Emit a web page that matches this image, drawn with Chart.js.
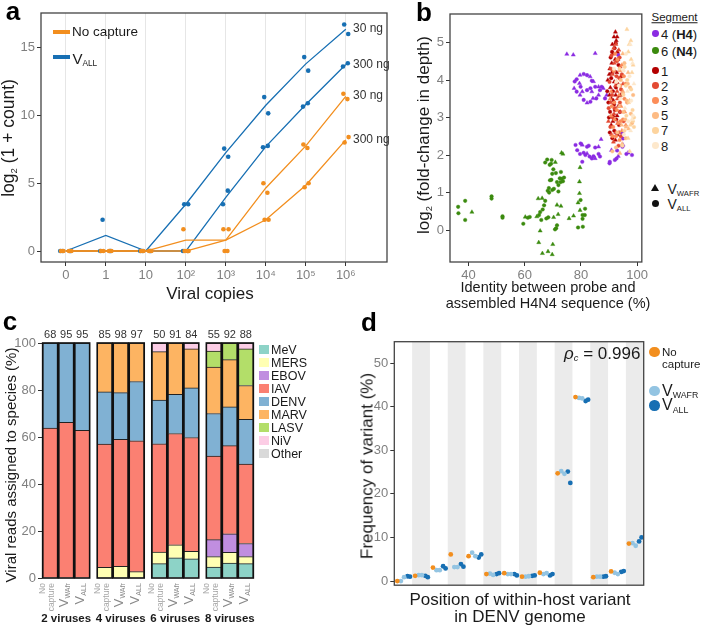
<!DOCTYPE html>
<html>
<head>
<meta charset="utf-8">
<title>Capture figure</title>
<script src="https://cdn.jsdelivr.net/npm/chart.js@4.4.1/dist/chart.umd.min.js"></script>
<style>
  html, body { margin: 0; padding: 0; background: #fff; }
  body { position: relative; width: 705px; height: 627px; overflow: hidden;
         font-family: 'Liberation Sans', Arial, sans-serif; color: #1a1a1a; }
  canvas { position: absolute; }
  .t { position: absolute; white-space: nowrap; line-height: 1; }
  .t sub { font-size: 0.55em; line-height: 0; position: relative; top: 0.32em; vertical-align: baseline; }
  .mk { position: absolute; }
</style>
</head>
<body>
<canvas id="ca" width="395" height="290" style="left:0;top:0"></canvas>
<canvas id="cb" width="250" height="282" style="left:400px;top:0"></canvas>
<canvas id="cc" width="265" height="307" style="left:0;top:320px"></canvas>
<canvas id="cd" width="305" height="275" style="left:345px;top:320px"></canvas>
<script>
// ---------- panel a: log2(1+count) vs viral copies ----------
const copyLabels = ['0', '1', '10', '10²', '10³', '10⁴', '10⁵', '10⁶'];
const noCap30   = [0, 0, 0, 0.8, 0.8, 4.65, 7.75, 11.4];
const noCap300  = [0, 0, 0, 0, 0.8, 2.3, 4.85, 8.2];
const vAll30    = [0, 1.15, 0, 3.45, 7.25, 10.75, 13.8, 16.35];
const vAll300   = [0, 0, 0, 0, 3.95, 7.7, 10.8, 13.75];
const noCap30Dots  = [[0, 0], [0, 0], [0, 0], [1.6, 0], [1.6, 0], [5.0, 4.3], [7.85, 7.6], [11.6, 11.2]];
const noCap300Dots = [[0, 0], [0, 0], [0, 0], [0, 0], [1.6, 0], [2.3, 2.3], [5.0, 4.7], [8.4, 8.0]];
const vAll30Dots   = [[0, 0], [2.3, 0], [0, 0], [3.45, 3.45], [7.55, 6.95], [11.35, 10.15], [14.3, 13.3], [16.7, 16.0]];
const vAll300Dots  = [[0, 0], [0, 0], [0, 0], [0, 0], [4.45, 3.45], [7.75, 7.65], [10.9, 10.65], [13.85, 13.6]];

// ---------- panel b: fold-change vs probe identity ([x, y, probe set]; 0 = VWAFR, 1 = VALL) ----------
const seg4 = [[75.0,4.69,0],[77.3,4.67,0],[85.1,4.71,0],[78.5,4.02,1],[79.7,4.13,0],[81.0,4.16,1],[82.2,4.13,1],[83.3,4.09,0],
  [83.9,3.98,1],[84.5,3.96,0],[77.8,3.96,1],[77.6,3.78,0],[78.5,3.69,1],[79.7,3.6,0],[81.0,3.47,1],[82.2,3.39,0],[83.4,3.42,1],
  [84.3,3.51,0],[85.5,3.51,1],[86.3,3.6,0],[86.8,3.73,1],[88.0,3.78,0],[87.4,3.82,1],[86.3,3.82,0],[85.1,3.82,1],[83.4,3.78,1],
  [83.9,3.69,0],[82.2,3.73,1],[80.5,3.69,0],[79.9,3.82,1],[79.5,3.91,0],[88.6,3.51,1],[89.2,3.6,0],[93.3,4.67,1],
  [78.1,2.27,1],[79.9,2.31,1],[80.5,2.27,0],[82.2,2.22,1],[82.8,2.25,1],[85.1,2.2,1],[86.3,2.22,0],[87.2,2.42,0],[78.7,2.13,1],
  [79.7,2.03,1],[81.0,2.06,1],[81.6,2.0,1],[82.2,2.04,0],[83.1,1.96,1],[83.9,1.91,1],[84.5,1.97,1],[85.1,1.91,0],[86.3,2.03,1],
  [86.8,1.96,1],[80.5,1.82,1],[90.3,1.82,1],[90.2,1.78,1],[92.1,1.87,1],[92.7,1.91,1],[93.3,1.97,0],[96.2,2.03,1],[96.8,2.06,0],
  [98.2,2.0,1],[90.9,2.13,0],[92.9,2.12,1],[94.8,2.22,1],[95.0,2.44,1],[92.7,2.58,1],[94.8,2.58,1],[95.0,2.27,0]];
const seg6 = [[36.3,0.62,1],[36.4,0.45,1],[38.8,0.78,1],[38.8,0.27,1],[41.2,0.48,0],[48.2,0.9,1],[48.2,0.84,1],[52.1,0.37,1],
  [52.1,0.33,1],[59.5,0.17,1],[60.2,0.35,0],[61.1,0.33,1],[61.8,0.35,1],[64.3,0.36,0],[64.8,0.84,0],[65.1,0.4,1],[65.5,0.48,1],
  [66.2,0.85,0],[66.4,0.55,1],[66.9,0.66,1],[67.3,0.78,1],[65.9,0.27,1],[65.5,-0.02,0],[65.0,-0.33,0],[66.3,-0.62,0],[68.3,-0.57,0],
  [69.8,-0.65,0],[70.0,-0.38,0],[67.7,0.31,1],[68.4,0.34,1],[70.3,0.34,0],[71.2,0.05,1],[70.8,0.02,1],[71.5,0.13,1],[71.9,0.42,0],
  [71.5,0.67,0],[72.9,0.64,0],[67.3,1.8,1],[68.0,1.88,1],[69.6,1.87,1],[69.4,1.77,1],[68.9,1.74,1],[70.9,1.81,0],[70.2,1.62,1],
  [69.8,1.5,1],[71.1,1.52,1],[69.5,1.34,1],[69.0,1.33,1],[72.9,1.55,1],[72.5,1.38,1],[73.2,1.37,1],[73.6,1.3,1],[74.0,1.4,1],
  [72.8,1.28,1],[68.6,1.12,1],[68.2,1.05,1],[68.7,1.0,1],[70.4,1.1,1],[69.8,1.07,1],[71.5,1.28,1],[72.0,1.2,1],[72.0,1.03,1],
  [73.1,2.06,0],[73.6,2.03,0],[79.7,1.67,0],[79.5,1.29,0],[79.5,0.98,0],[79.9,0.8,1],[79.0,0.73,0],[79.7,0.53,0],[81.5,0.57,1],
  [80.6,0.4,1],[81.4,0.4,1],[80.6,0.3,1],[80.7,0.09,1],[79.0,0.07,1],[75.8,0.31,0],[77.4,0.38,0]];
const seg1 = [[92.3,5.28,0],[91.8,5.15,0],[92.6,5.05,0],[91.2,4.95,0],[92.0,4.85,1],[91.5,4.7,0],[93.0,4.75,0],[90.6,4.6,1],
  [92.2,4.55,0],[91.0,4.45,0],[93.4,4.4,1],[90.3,4.3,0],[91.7,4.25,1],[92.8,4.2,0],[90.8,4.05,1],[91.9,3.95,0],[93.0,3.9,1],
  [90.5,3.8,0],[91.4,3.7,1],[92.4,3.6,0],[90.9,3.5,0],[91.8,3.35,1],[93.3,3.3,0],[90.4,3.15,1],[91.5,3.05,0],[92.6,2.95,1],
  [90.8,2.8,0],[91.9,2.65,1],[93.0,2.55,0],[91.2,2.45,1],[94.2,3.6,0],[94.5,4.1,1],[89.8,3.4,1],[89.6,4.0,0],[92.9,5.15,0],
  [93.6,2.8,1],[92.1,3.2,1],[91.0,4.2,0],[92.4,4.98,1],[91.1,4.75,1],[93.2,4.55,0],[90.1,4.15,0],[92.5,3.8,1],[90.2,3.6,0],
  [93.7,3.55,1],[91.6,3.45,0],[90.0,3.0,1],[92.9,3.05,0],[91.4,2.9,0],[90.3,2.6,1],[92.3,2.4,0],[93.9,3.15,1],[89.4,3.7,1]];
const seg2 = [[92.5,4.95,0],[93.5,4.8,0],[90.9,4.65,1],[92.8,4.5,1],[94.0,4.35,0],[91.3,4.15,0],[93.7,4.05,1],[90.2,3.95,1],
  [92.3,3.85,0],[94.3,3.75,1],[91.1,3.6,1],[93.0,3.5,0],[90.6,3.4,0],[92.0,3.25,1],[94.0,3.15,0],[91.3,3.0,1],[93.1,2.85,0],
  [90.5,2.75,1],[92.4,2.6,0],[94.2,2.5,1],[91.6,2.35,0],[93.4,2.25,1],[95.0,3.9,0],[95.2,2.9,1],[89.8,2.9,0],[92.7,4.1,1],
  [91.9,4.45,0],[93.9,3.4,1],[91.7,4.85,0],[93.8,4.6,1],[90.7,4.3,1],[92.9,3.7,0],[91.8,3.1,0],[90.9,2.55,0],[94.6,4.15,1],
  [93.6,2.6,0],[89.9,3.25,1]];
const seg3 = [[93.0,4.55,1],[94.6,4.4,0],[91.7,4.25,1],[95.3,4.1,1],[92.6,3.95,0],[94.0,3.85,1],[90.8,3.7,0],[93.6,3.6,0],
  [95.5,3.5,1],[91.9,3.4,1],[94.3,3.3,0],[92.8,3.2,1],[90.7,3.05,0],[95.0,2.95,1],[93.3,2.85,0],[91.5,2.75,1],[94.6,2.65,0],
  [92.5,2.5,1],[96.0,2.8,0],[93.8,2.4,1],[91.0,3.3,1],[95.9,3.9,1],[92.1,2.95,0],[94.9,3.7,0],[93.9,4.25,0],[92.2,4.7,1],
  [95.6,3.15,0],[91.3,2.5,1],[94.1,2.9,1],[90.4,3.5,0],[96.5,3.4,1]];
const seg5 = [[95.5,4.45,1],[96.8,4.2,0],[94.2,4.0,1],[97.5,3.8,1],[95.0,3.65,0],[96.3,3.45,1],[93.6,3.3,0],[97.8,3.1,1],
  [95.8,2.95,1],[94.5,2.8,0],[97.0,2.7,0],[93.0,2.6,1],[96.0,2.45,1],[94.7,2.3,0],[92.5,2.2,1],[98.2,2.85,1],[97.3,3.45,0],
  [95.2,3.15,1],[93.9,2.05,0],[91.2,2.1,1],[96.7,3.9,1],[94.9,4.7,0],[98.6,3.6,1],[96.1,2.75,0]];
const seg7 = [[96.4,5.35,0],[97.8,5.05,0],[96.9,4.75,0],[97.9,4.55,0],[95.6,4.35,1],[98.2,4.2,0],[96.5,4.0,1],[97.9,3.75,1],
  [95.1,3.6,1],[97.0,3.4,0],[98.4,3.2,1],[96.2,3.05,1],[97.6,2.8,0],[95.5,2.65,1],[98.9,2.75,1],[96.8,2.45,0],[94.8,2.25,1],
  [97.4,2.1,0],[98.5,2.9,1],[93.8,4.3,1],[97.2,4.95,0],[98.6,4.4,0],[96.0,3.85,1],[98.9,3.0,1]];
const seg8 = [[97.6,4.95,0],[96.1,4.7,1],[98.4,4.45,0],[95.2,4.25,1],[97.3,4.1,1],[98.9,3.9,0],[96.6,3.7,0],[94.0,3.5,1],
  [97.9,3.45,1],[95.7,3.25,0],[98.5,3.05,1],[96.9,2.9,1],[93.5,3.85,1],[97.7,2.65,0],[95.3,2.55,1],[92.6,3.95,1],[98.2,2.95,0],
  [91.8,4.3,1]];

// ---------- panel c: share of viral reads per species (%) ----------
const groupNames = ['2 viruses', '4 viruses', '6 viruses', '8 viruses'];
const barNames = ['No<br>capture', 'V<sub>WAfr</sub>', 'V<sub>ALL</sub>'];
const totalReads = [68, 95, 95, 85, 98, 97, 50, 91, 84, 55, 92, 88];
const species = ['MeV', 'MERS', 'EBOV', 'IAV', 'DENV', 'MARV', 'LASV', 'NiV', 'Other'];
const pctMeV   = [0, 0, 0, 0, 0, 0, 6.1, 8.6, 8.2, 4.7, 6.4, 6.1];
const pctMERS  = [0, 0, 0, 4.5, 5.0, 2.7, 4.9, 5.5, 3.1, 4.4, 4.5, 3.0];
const pctEBOV  = [0, 0, 0, 0, 0, 0, 0, 0, 0, 7.2, 7.9, 5.6];
const pctIAV   = [63.8, 66.2, 62.8, 52.5, 54.0, 55.7, 46.1, 47.4, 48.5, 35.6, 37.5, 33.8];
const pctDENV  = [36.2, 33.8, 37.2, 22.2, 19.9, 25.2, 18.6, 16.7, 21.1, 18.1, 16.5, 19.0];
const pctMARV  = [0, 0, 0, 20.8, 21.1, 16.4, 20.6, 21.8, 16.6, 19.8, 20.1, 14.4];
const pctLASV  = [0, 0, 0, 0, 0, 0, 0, 0, 0, 6.8, 7.1, 15.6];
const pctNiV   = [0, 0, 0, 0, 0, 0, 3.7, 0, 2.5, 3.4, 0, 2.5];
const pctOther = [0, 0, 0, 0, 0, 0, 0, 0, 0, 0, 0, 0];

// ---------- panel d: within-host variant frequency (%) ----------
const dNoCapture = [0.0, 1.2, 3.1, 6.1, 5.7, 1.6, 1.8, 1.0, 1.9, 24.7, 42.2, 0.9, 2.2, 8.6];
const dWafrRep1  = [0.0, 1.35, 2.5, 3.2, 6.5, 1.7, 1.6, 1.0, 1.6, 25.2, 42.0, 1.0, 1.9, 8.7];
const dWafrRep2  = [0.9, 1.35, 2.5, 3.2, 5.7, 1.4, 1.6, 1.1, 1.8, 24.6, 41.9, 1.0, 1.6, 8.1];
const dAllRep1   = [1.1, 1.2, 3.4, 3.9, 5.4, 1.6, 1.6, 1.2, 1.3, 25.1, 41.3, 1.0, 2.1, 9.1];
const dAllRep2   = [1.0, 0.9, 2.9, 3.3, 6.1, 1.8, 1.3, 1.3, 1.6, 22.5, 41.6, 1.1, 2.3, 10.0];

// ---------- shared ----------
const FONT = "'Liberation Sans', Arial, sans-serif";
const GREY = '#7f7f7f';
const ORANGE = '#f28e1e', BLUE = '#176fb3', LIGHTBLUE = '#93c4e2';
const PURPLE = '#8a2be2', GREEN = '#3b8a0e';
const SEGCOL = { 1: '#b30000', 2: '#e34a33', 3: '#fc8d59', 5: '#fdbb84', 7: '#fdd49e', 8: '#fde8cc' };
const SPCOL = ['#8dd3c7', '#ffffb3', '#c08ee0', '#fb8072', '#80b1d3', '#fdb462', '#b3de69', '#fccde5', '#d9d9d9'];

Chart.defaults.font.family = FONT;
Chart.defaults.animation = false;

const frame = {
  id: 'frame',
  afterDatasetsDraw(c) {
    const { left, top, right, bottom } = c.chartArea;
    const g = c.ctx;
    g.save();
    g.strokeStyle = '#444';
    g.lineWidth = 1.3;
    g.strokeRect(left, top, right - left, bottom - top);
    g.restore();
  }
};

function valueAxis(min, max, tickVals, width) {
  return {
    min, max,
    afterBuildTicks: s => { s.ticks = tickVals.map(v => ({ value: v })); },
    afterFit: s => { s.width = width; },
    border: { display: false },
    grid: { drawOnChartArea: false, tickLength: 4, tickColor: '#333' },
    ticks: { color: GREY, font: { size: 13 }, padding: 2 }
  };
}

const noChrome = { legend: { display: false }, tooltip: { enabled: false } };

// ---------- draw a ----------
const aSeries = [
  { line: noCap30, dots: noCap30Dots, color: ORANGE, jit: [-0.06, 0.04] },
  { line: noCap300, dots: noCap300Dots, color: ORANGE, jit: [0.07, -0.03] },
  { line: vAll30, dots: vAll30Dots, color: BLUE, jit: [-0.04, 0.06] },
  { line: vAll300, dots: vAll300Dots, color: BLUE, jit: [0.05, -0.07] }
];
const aSets = [];
aSeries.forEach(s => {
  aSets.push({
    data: s.dots.flatMap((pair, i) => pair.map((y, r) => ({ x: i + s.jit[r] * (i < 3 ? 2 : 1), y }))),
    backgroundColor: s.color, borderWidth: 0, pointRadius: 2.3
  });
});
aSeries.forEach(s => {
  aSets.push({
    data: s.line.map((y, i) => ({ x: i, y })), showLine: true,
    borderColor: s.color, borderWidth: 1.3, pointRadius: 0
  });
});

new Chart(document.getElementById('ca'), {
  type: 'scatter',
  data: { datasets: aSets },
  options: {
    responsive: false,
    layout: { padding: { left: 0, top: 13, right: 8, bottom: 0 } },
    plugins: noChrome,
    scales: {
      x: {
        type: 'linear', min: -0.62, max: 8.03,
        afterBuildTicks: s => { s.ticks = copyLabels.map((_, i) => ({ value: i })); },
        afterFit: s => { s.height = 28; },
        border: { display: false },
        grid: { color: '#e6e6e6', tickColor: '#333', tickLength: 4 },
        ticks: { callback: v => copyLabels[v], color: GREY, font: { size: 13 }, padding: 2, maxRotation: 0, autoSkip: false }
      },
      y: valueAxis(-0.81, 17.55, [0, 5, 10, 15], 41)
    }
  },
  plugins: [frame]
});

// ---------- draw b ----------
const bLayers = [[seg8, SEGCOL[8]], [seg7, SEGCOL[7]], [seg5, SEGCOL[5]], [seg3, SEGCOL[3]],
                 [seg2, SEGCOL[2]], [seg1, SEGCOL[1]], [seg4, PURPLE], [seg6, GREEN]];
new Chart(document.getElementById('cb'), {
  type: 'scatter',
  data: {
    datasets: bLayers.map(([pts, col]) => ({
      data: pts.map(p => ({ x: p[0], y: p[1], m: p[2] })),
      backgroundColor: col, borderColor: col, borderWidth: 0.4,
      pointStyle: c => (c.raw && c.raw.m ? 'circle' : 'triangle'),
      pointRadius: c => (c.raw && c.raw.m ? 1.8 : 2.4)
    }))
  },
  options: {
    responsive: false,
    layout: { padding: { left: 0, top: 14, right: 4, bottom: 0 } },
    plugins: noChrome,
    scales: {
      x: {
        type: 'linear', min: 33.4, max: 101.7,
        afterBuildTicks: s => { s.ticks = [40, 60, 80, 100].map(v => ({ value: v })); },
        afterFit: s => { s.height = 20; },
        border: { display: false },
        grid: { drawOnChartArea: false, tickColor: '#333', tickLength: 4 },
        ticks: { color: GREY, font: { size: 13 }, padding: 2, maxRotation: 0 }
      },
      y: valueAxis(-0.85, 5.76, [0, 1, 2, 3, 4, 5], 50)
    }
  },
  plugins: [frame]
});

// ---------- draw c ----------
const barPos = groupNames.flatMap((_, gi) => [0, 1, 2].map(b => gi * 3.41 + b));
const pctBySpecies = [pctMeV, pctMERS, pctEBOV, pctIAV, pctDENV, pctMARV, pctLASV, pctNiV, pctOther];
const barFrame = {
  id: 'barFrame',
  afterDatasetsDraw(c) {
    const x = c.scales.x, y = c.scales.y, g = c.ctx;
    g.save();
    g.strokeStyle = '#111';
    g.lineWidth = 1.6;
    barPos.forEach(p => {
      const px = x.getPixelForValue(p);
      g.strokeRect(px - 7.5, y.getPixelForValue(100), 15, y.getPixelForValue(0) - y.getPixelForValue(100));
    });
    g.restore();
  }
};
const chartC = new Chart(document.getElementById('cc'), {
  type: 'bar',
  data: {
    datasets: pctBySpecies.map((vals, si) => ({
      label: species[si],
      data: vals.map((v, i) => ({ x: barPos[i], y: v || null })),
      backgroundColor: SPCOL[si], borderColor: '#222', borderWidth: 1,
      barThickness: 15, stack: 'reads', clip: false
    }))
  },
  options: {
    responsive: false,
    layout: { padding: { left: 0, top: 23, right: 11, bottom: 49 } },
    plugins: noChrome,
    scales: {
      x: { type: 'linear', stacked: true, display: false, offset: false, grid: { offset: false }, min: -0.51, max: 12.74 },
      y: Object.assign(valueAxis(0, 100, [0, 20, 40, 60, 80, 100], 42), { stacked: true })
    }
  },
  plugins: [barFrame]
});

// ---------- draw d ----------
const stripes = {
  id: 'stripes',
  beforeDatasetsDraw(c) {
    const x = c.scales.x, { top, bottom } = c.chartArea, g = c.ctx;
    g.save();
    g.fillStyle = '#ebebeb';
    dNoCapture.forEach((_, i) => {
      if (i % 2 === 1) {
        const a = x.getPixelForValue(i), b = x.getPixelForValue(i + 1);
        g.fillRect(a, top, b - a, bottom - top);
      }
    });
    g.restore();
  }
};
const dOffsets = [0.17, 0.37, 0.55, 0.74, 0.88];
const dSeries = [[dNoCapture, ORANGE], [dWafrRep1, LIGHTBLUE], [dWafrRep2, LIGHTBLUE], [dAllRep1, BLUE], [dAllRep2, BLUE]];
new Chart(document.getElementById('cd'), {
  type: 'scatter',
  data: {
    datasets: dSeries.map(([vals, col], k) => ({
      data: vals.map((y, i) => ({ x: i + dOffsets[k], y })),
      backgroundColor: col, borderWidth: 0, pointRadius: 2.4
    }))
  },
  options: {
    responsive: false,
    layout: { padding: { left: 0, top: 21.7, right: 6.3, bottom: 6.3 } },
    plugins: noChrome,
    scales: {
      x: { type: 'linear', display: false, min: 0, max: dNoCapture.length },
      y: valueAxis(-0.95, 54.9, [0, 10, 20, 30, 40, 50], 49.3)
    }
  },
  plugins: [stripes, frame]
});

// ---------- text and legends ----------
function put(html, cx, cy, css, rot) {
  const d = document.createElement('div');
  d.className = 't';
  d.innerHTML = html;
  d.style.cssText += css;
  d.style.left = cx + 'px';
  d.style.top = cy + 'px';
  d.style.transform = 'translate(-50%,-50%)' + (rot ? ' rotate(-90deg)' : '');
  document.body.appendChild(d);
}
function putLeft(html, x, cy, css) {
  const d = document.createElement('div');
  d.className = 't';
  d.innerHTML = html;
  d.style.cssText += css;
  d.style.left = x + 'px';
  d.style.top = cy + 'px';
  d.style.transform = 'translateY(-50%)';
  document.body.appendChild(d);
}
function putUp(html, x, y, css, dy) {
  const a = document.createElement('div');
  a.style.cssText = `position:absolute;left:${x}px;top:${y}px;width:0;height:0;transform:rotate(-90deg);transform-origin:0 0;`;
  const s = document.createElement('div');
  s.className = 't';
  s.innerHTML = html;
  s.style.cssText += css + `right:0;top:${dy}px;text-align:right;`;
  a.appendChild(s);
  document.body.appendChild(a);
}
function mark(x, y, r, color, shape) {
  const d = document.createElement('div');
  d.className = 'mk';
  if (shape === 'tri') {
    d.style.cssText = `left:${x - r}px;top:${y - r}px;width:0;height:0;border-left:${r}px solid transparent;` +
      `border-right:${r}px solid transparent;border-bottom:${r * 1.75}px solid ${color};`;
  } else if (shape === 'sq') {
    d.style.cssText = `left:${x - r}px;top:${y - r}px;width:${2 * r}px;height:${2 * r}px;background:${color};`;
  } else if (shape === 'bar') {
    d.style.cssText = `left:${x}px;top:${y - 2}px;width:${r}px;height:4px;background:${color};`;
  } else {
    d.style.cssText = `left:${x - r}px;top:${y - r}px;width:${2 * r}px;height:${2 * r}px;border-radius:50%;background:${color};`;
  }
  document.body.appendChild(d);
}

// panel letters
put('a', 13, 11, 'font-weight:bold;font-size:26px;color:#000;');
put('b', 424, 12, 'font-weight:bold;font-size:26px;color:#000;');
put('c', 10, 320.5, 'font-weight:bold;font-size:26px;color:#000;');
put('d', 369, 322, 'font-weight:bold;font-size:26px;color:#000;');

// a
put('log<sub>2</sub> (1 + count)', 9, 138, 'font-size:17.5px;', true);
put('Viral copies', 210, 293, 'font-size:17px;');
mark(53, 31.5, 17, ORANGE, 'bar');
putLeft('No capture', 72, 31.5, 'font-size:13.5px;');
mark(53, 56.5, 17, BLUE, 'bar');
putLeft('V<sub>ALL</sub>', 72.5, 57.5, 'font-size:15px;');
[['30 ng', 28], ['300 ng', 64], ['30 ng', 95], ['300 ng', 139]].forEach(([t, y]) => putLeft(t, 353, y, 'font-size:12px;color:#333;'));

// b
put('log<sub>2</sub> (fold-change in depth)', 423, 135, 'font-size:17px;', true);
put('Identity between probe and', 548, 287, 'font-size:14.5px;');
put('assembled H4N4 sequence (%)', 548, 302.5, 'font-size:14.5px;');
putLeft('<u>Segment</u>', 651.5, 18, 'font-size:11.5px;');
[[PURPLE, '4 (<b>H4</b>)', 33.5], [GREEN, '6 (<b>N4</b>)', 50.5], [SEGCOL[1], '1', 70.7], [SEGCOL[2], '2', 85.5],
 [SEGCOL[3], '3', 100.3], [SEGCOL[5], '5', 115.3], [SEGCOL[7], '7', 130.3], [SEGCOL[8], '8', 145.5]]
  .forEach(([col, t, y]) => { mark(655.5, y, 3.4, col); putLeft(t, 661, y, 'font-size:13px;'); });
mark(655.5, 188.5, 4.3, '#111', 'tri');
putLeft('V<sub>WAFR</sub>', 667.5, 188.5, 'font-size:14px;');
mark(655.5, 203.5, 3.6, '#111');
putLeft('V<sub>ALL</sub>', 667.5, 203.5, 'font-size:14px;');

// c
put('Viral reads assigned to species (%)', 10, 465, 'font-size:15px;', true);
species.forEach((s, i) => {
  mark(264, 349.5 + 13 * i, 4.6, SPCOL[i], 'sq');
  putLeft(s, 271, 349.5 + 13 * i, 'font-size:12.5px;');
});
const cx = chartC.scales.x;
barPos.forEach((p, i) => {
  const px = cx.getPixelForValue(p);
  put(String(totalReads[i]), px, 334, 'font-size:11px;color:#333;');
  const k = i % 3;
  if (k === 0) putUp(barNames[k], px, 583, 'font-size:8.5px;line-height:9px;color:#a6a6a6;', -11.9);
  else putUp(barNames[k], px, 583, 'font-size:13px;color:#888;', -8.8);
});
groupNames.forEach((g, gi) => put(g, cx.getPixelForValue(barPos[gi * 3 + 1]), 619, 'font-size:11.5px;font-weight:bold;'));

// d
put('Frequency of variant (%)', 367, 466, 'font-size:17px;', true);
put('Position of within-host variant', 520, 599, 'font-size:17px;');
put('in DENV genome', 520, 616, 'font-size:17px;');
putLeft('<i>ρ</i><sub><i>c</i></sub> = 0.996', 564, 352.5, 'font-size:17px;');
mark(654.5, 352, 5.2, ORANGE);
putLeft('No', 662, 352.5, 'font-size:11.5px;');
putLeft('capture', 662, 365, 'font-size:11.5px;');
mark(654.5, 391, 5.2, LIGHTBLUE);
putLeft('V<sub>WAFR</sub>', 662, 390.5, 'font-size:16px;');
mark(654.5, 405.5, 5.2, BLUE);
putLeft('V<sub>ALL</sub>', 662, 405, 'font-size:16px;');
</script>
</body>
</html>
